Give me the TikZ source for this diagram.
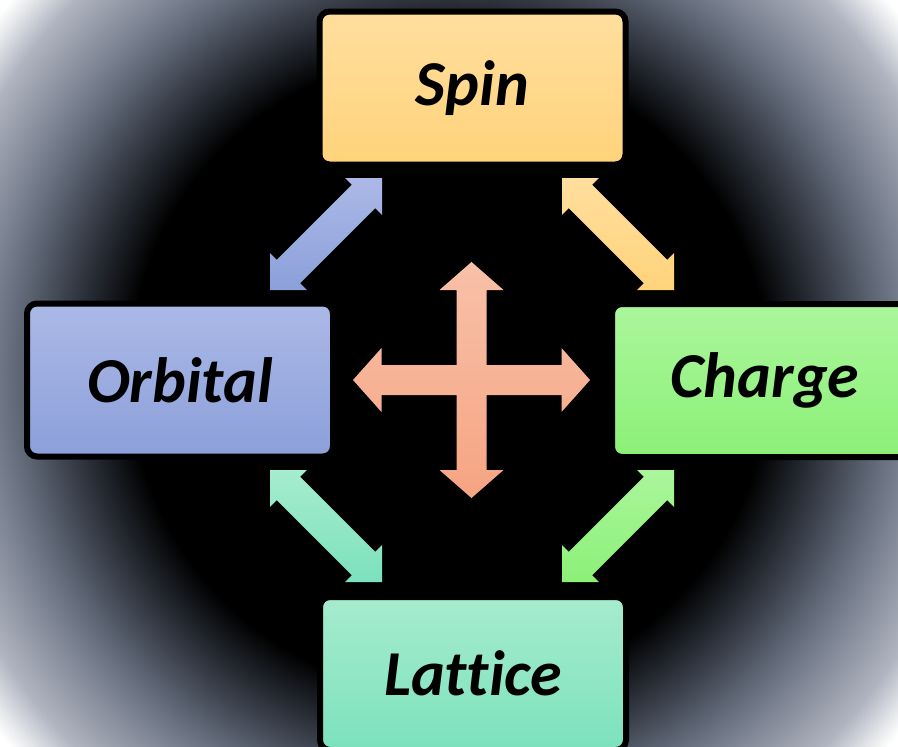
\documentclass[tikz,border=0pt]{standalone}
\usepackage{fontspec}
\newfontfamily\carlito{Carlito}[Ligatures=NoCommon]
\usetikzlibrary{calc}

\definecolor{spintop}{RGB}{255,222,158}
\definecolor{spinbot}{RGB}{255,211,123}
\definecolor{orbtop}{RGB}{172,185,231}
\definecolor{orbbot}{RGB}{139,159,217}
\definecolor{chatop}{RGB}{171,246,156}
\definecolor{chabot}{RGB}{139,240,119}
\definecolor{lattop}{RGB}{166,236,206}
\definecolor{latbot}{RGB}{124,225,189}
\definecolor{crosstop}{RGB}{248,193,169}
\definecolor{crossbot}{RGB}{246,164,130}
\definecolor{vigone}{RGB}{42,47,56}
\definecolor{vigtwo}{RGB}{106,114,130}
\definecolor{vigthree}{RGB}{176,180,192}
\definecolor{vigfour}{RGB}{228,230,234}

\pgfdeclareradialshading{vignette}{\pgfpoint{0bp}{0bp}}{color(0bp)=(black); color(13.3bp)=(black); color(15.5bp)=(vigone); color(18.5bp)=(vigtwo); color(22bp)=(vigthree); color(23.3bp)=(vigfour); color(24bp)=(white); color(50bp)=(white)}

% block double arrow: top colour, bottom colour, from, to
\newcommand\blockarrow[4]{\shade[top color=#1, bottom color=#2] (#3)
	-- ($(#3)!26pt!(#4)!26pt!90:(#4)$) -- ($(#3)!26pt!(#4)!16.5pt!90:(#4)$)
	-- ($(#4)!26pt!(#3)!16.5pt!-90:(#3)$) -- ($(#4)!26pt!(#3)!26pt!-90:(#3)$)
	-- (#4)
	-- ($(#4)!26pt!(#3)!26pt!90:(#3)$) -- ($(#4)!26pt!(#3)!16.5pt!90:(#3)$)
	-- ($(#3)!26pt!(#4)!16.5pt!-90:(#4)$) -- ($(#3)!26pt!(#4)!26pt!-90:(#4)$)
	-- cycle;}

\begin{document}
\begin{tikzpicture}[x=1pt, y=-1pt,
		box/.style={draw=black, line width=6pt, rounded corners=10pt,
			minimum width=306pt, minimum height=153pt, inner sep=0pt,
			font=\carlito\bfseries\itshape\fontsize{64}{64}\selectfont}]
			%%%%% START %%%%%
			
			\useasboundingbox (0,0) rectangle (898,747);
			\begin{scope}
				\clip (0,0) rectangle (898,747);
				\shade[shading=vignette] (449,373.5) circle (600pt);
			\end{scope}
			
			\node[box, top color=spintop, bottom color=spinbot] (spin) at (472.5,88) {Spin};
			\node[box, top color=orbtop, bottom color=orbbot] (orbital) at (180,380) {Orbital};
			\node[box, top color=chatop, bottom color=chabot] (charge) at (765,380.5) {Charge};
			\node[box, top color=lattop, bottom color=latbot] (lattice) at (473,673.5) {Lattice};
			
			\coordinate (os1) at (270,290);
			\coordinate (os2) at (382,178);
			\coordinate (sc1) at (562,178);
			\coordinate (sc2) at (674,290);
			\coordinate (cl1) at (674,470);
			\coordinate (cl2) at (562,582);
			\coordinate (ol1) at (270,470);
			\coordinate (ol2) at (382,582);
			
			\blockarrow{orbtop}{orbbot}{os1}{os2}
			\blockarrow{spintop}{spinbot}{sc1}{sc2}
			\blockarrow{chatop}{chabot}{cl1}{cl2}
			\blockarrow{lattop}{latbot}{ol1}{ol2}
			
			\coordinate (hub) at (471.5,380);
			\begin{scope}[shift={(hub)}]
				\shade[top color=crosstop, bottom color=crossbot] (0,-118) -- (32,-90) -- (15,-90) -- (15,-15)
					-- (90,-15) -- (90,-32) -- (118.5,0) -- (90,32) -- (90,15) -- (15,15)
					-- (15,90) -- (32,90) -- (0,118) -- (-32,90) -- (-15,90) -- (-15,15)
					-- (-90,15) -- (-90,32) -- (-118.5,0) -- (-90,-32) -- (-90,-15) -- (-15,-15)
					-- (-15,-90) -- (-32,-90) -- cycle;
			\end{scope}
			
			%%%%% END %%%%%
\end{tikzpicture}
\end{document}
